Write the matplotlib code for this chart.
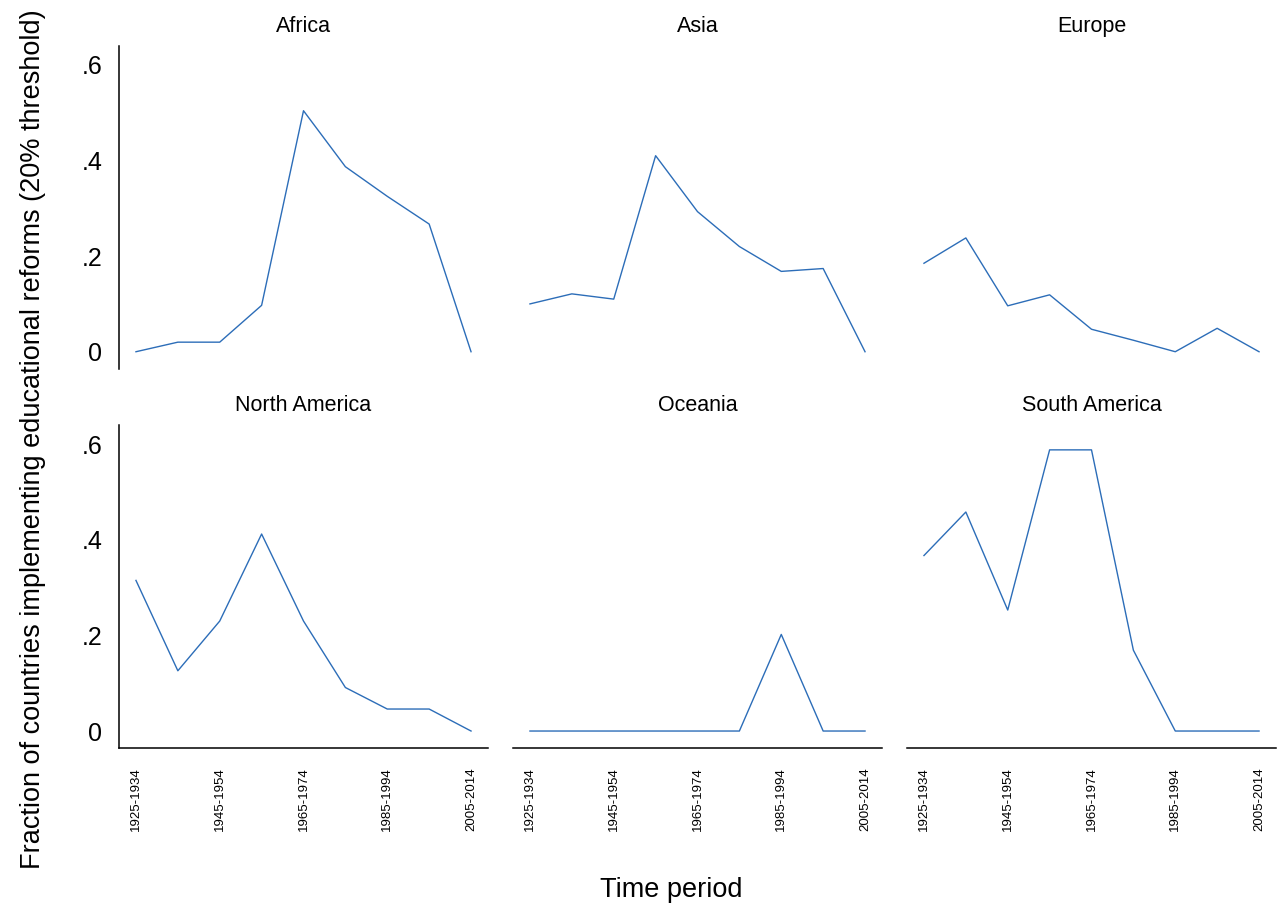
import matplotlib
matplotlib.use("Agg")
import matplotlib.pyplot as plt
import numpy as np

plt.rcParams["font.family"] = ["Liberation Sans", "DejaVu Sans"]

PERIODS = ["1925-1934", "1935-1944", "1945-1954", "1955-1964", "1965-1974",
           "1975-1984", "1985-1994", "1995-2004", "2005-2014"]

africa   = [0.0, 0.020, 0.020, 0.097, 0.504, 0.387, 0.325, 0.267, 0.0]
asia     = [0.100, 0.121, 0.110, 0.410, 0.293, 0.220, 0.168, 0.174, 0.0]
europe   = [0.185, 0.238, 0.096, 0.119, 0.047, 0.024, 0.0, 0.049, 0.0]
n_america = [0.315, 0.126, 0.230, 0.412, 0.230, 0.091, 0.046, 0.046, 0.0]
oceania  = [0.0, 0.0, 0.0, 0.0, 0.0, 0.0, 0.202, 0.0, 0.0]
s_america = [0.367, 0.458, 0.253, 0.588, 0.588, 0.169, 0.0, 0.0, 0.0]

REGIONS = ["Africa", "Asia", "Europe", "North America", "Oceania", "South America"]
VALUES = [africa, asia, europe, n_america, oceania, s_america]

LINE_COLOR = "#2c6db8"

W, H = 1279, 913
fig = plt.figure(figsize=(W / 100, H / 100), dpi=100)

col_left = [119, 513, 907]
col_width = 369
row_top = [45.7, 425]
row_height = 323

x = np.arange(len(PERIODS))

for i, (region, vals) in enumerate(zip(REGIONS, VALUES)):
    r, c = divmod(i, 3)
    ax = fig.add_axes([col_left[c] / W, 1 - (row_top[r] + row_height) / H,
                       col_width / W, row_height / H])
    ax.plot(x, vals, color=LINE_COLOR, linewidth=1.0)
    ax.set_xlim(-0.405, len(PERIODS) - 1 + 0.405)
    ax.set_ylim(-0.0355, 0.64)
    ax.set_title(region, fontsize=15.5, pad=10)

    for s in ["top", "right"]:
        ax.spines[s].set_visible(False)
    ax.spines["left"].set_visible(c == 0)
    ax.spines["bottom"].set_visible(r == 1)
    for s in ["left", "bottom"]:
        ax.spines[s].set_linewidth(1.1)

    ax.set_yticks([0, 0.2, 0.4, 0.6])
    if c == 0:
        ax.set_yticklabels(["0", ".2", ".4", ".6"], fontsize=18)
    else:
        ax.set_yticklabels([])
    ax.set_xticks(x[::2])
    if r == 1:
        ax.set_xticklabels(PERIODS[::2], rotation=90, fontsize=9.5)
    else:
        ax.set_xticklabels([])
    ax.tick_params(axis="y", length=0, pad=12)
    ax.tick_params(axis="x", length=0, pad=14)

fig.text(33 / W, 1 - 439 / H,
         "Fraction of countries implementing educational reforms (20% threshold)",
         rotation=90, ha="center", va="center", fontsize=19.5)
fig.text(671 / W, 1 - 890 / H, "Time period", ha="center", va="center", fontsize=19.5)

fig.savefig("out.png", dpi=100)
